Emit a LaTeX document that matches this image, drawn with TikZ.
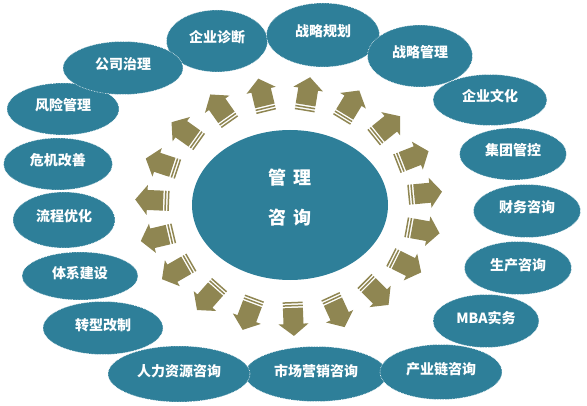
\documentclass[tikz,border=0pt]{standalone}
\usepackage{fontspec}
\setmainfont{Noto Sans CJK SC}
\usepackage{tikz}
\usetikzlibrary{shapes.geometric}
\usepackage{xcolor}
\definecolor{seablue}{RGB}{46,127,153}
\definecolor{khaki}{RGB}{143,134,82}

\begin{document}
\begin{tikzpicture}[x=1pt, y=1pt,
					a/.style={ellipse, fill=seablue, draw=white, densely dotted, line width=0.6pt, inner sep=0pt, text=white, font=\fontsize{14}{16}\selectfont\bfseries, text height=12pt, text depth=8pt},
					hub/.style={ellipse, fill=seablue, inner sep=0pt, minimum width=196, minimum height=150},
					hubtext/.style={text=white, align=center, font=\fontsize{18}{40}\selectfont\bfseries}
					]
					\useasboundingbox (0,0) rectangle (587,405);
					
					%Centre
					\node[hub] (0) at (290,200) {};
					\node[hubtext] (0t) at (290,207) {管\hspace{8pt}理\\咨\hspace{8pt}询};
					
					%Arrows
					\foreach \k in {0,...,18}{
						\pgfmathsetmacro{\t}{6.5+18.95*\k}
						\pgfmathsetmacro{\r}{atan2(113*sin(\t),137*cos(\t))}
						\begin{scope}[shift={({289+137*cos(\t)},{199+113*sin(\t)})}, rotate=\r]
							\fill[khaki] (-11,-10) -- (5,-10) -- (5,-15) -- (17,0) -- (5,15) -- (5,10) -- (-11,10) -- cycle;
							\fill[khaki] (-14,-10) rectangle (-12.5,10);
							\fill[khaki] (-17,-10) rectangle (-15.5,10);
						\end{scope}
					}
					
					%Nodes
					\node[a, minimum width=101, minimum height=62] (17) at (217,364) {企业诊断};
					\node[a, minimum width=113, minimum height=64] (1)  at (323,370) {战略规划};
					\node[a, minimum width=105, minimum height=62] (2)  at (420,349) {战略管理};
					\node[a, minimum width=114, minimum height=51] (3)  at (490,305) {企业文化};
					\node[a, minimum width=107, minimum height=52] (4)  at (513,251) {集团管控};
					\node[a, minimum width=107, minimum height=53] (5)  at (527,194) {财务咨询};
					\node[a, minimum width=107, minimum height=53] (6)  at (518,137) {生产咨询};
					\node[a, minimum width=106, minimum height=53] (7)  at (486,84)  {MBA实务};
					\node[a, minimum width=142, minimum height=55] (9)  at (316,31)  {市场营销咨询};
					\node[a, minimum width=122, minimum height=55] (8)  at (441,33)  {产业链咨询};
					\node[a, minimum width=142, minimum height=56] (10) at (179,31)  {人力资源咨询};
					\node[a, minimum width=120, minimum height=53] (11) at (103,77)  {转型改制};
					\node[a, minimum width=116, minimum height=48] (12) at (80,129)  {体系建设};
					\node[a, minimum width=102, minimum height=56] (13) at (64,185)  {流程优化};
					\node[a, minimum width=109, minimum height=52] (14) at (58,241)  {危机改善};
					\node[a, minimum width=112, minimum height=52] (15) at (63,296)  {风险管理};
					\node[a, minimum width=120, minimum height=53] (16) at (123,337) {公司治理};
				\end{tikzpicture}
\end{document}
